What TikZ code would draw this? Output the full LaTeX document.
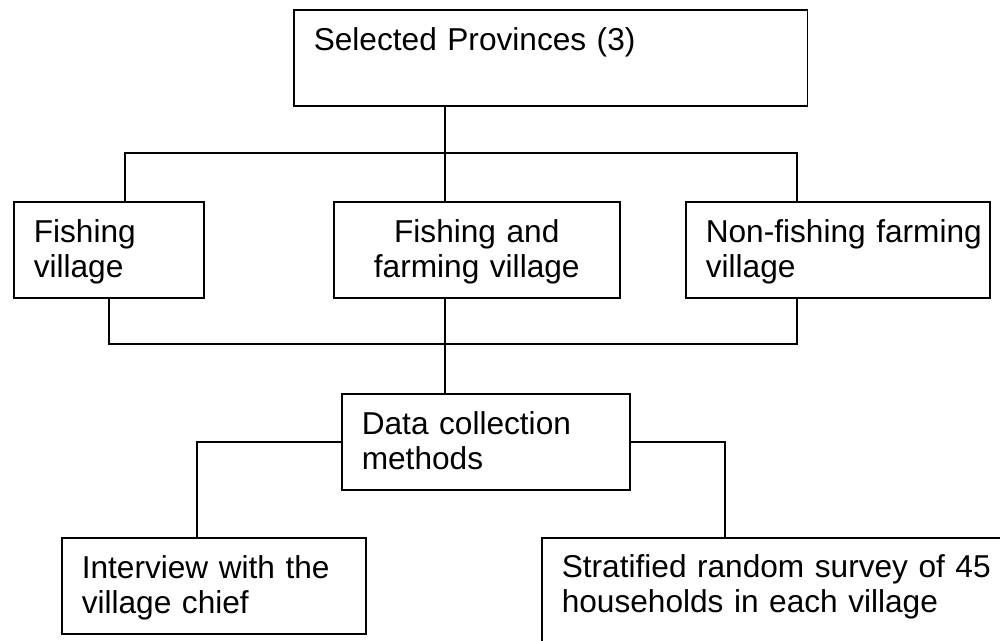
\documentclass[tikz,border=0pt]{standalone}
\usepackage{fontspec}
\setmainfont{Liberation Sans}
\usetikzlibrary{positioning}
\tikzset{
  box/.style  = {rectangle, draw=black, line width=0.9pt, anchor=north west,
                 minimum height=1.92cm, inner xsep=0.4cm, inner ysep=0pt,
                 text depth=0.74cm, align=left,
                 font=\fontsize{18}{19.8}\selectfont},
  link/.style = {draw=black, line width=0.9pt},
}

\begin{document}
\begin{tikzpicture}[x=0.02cm, y=-0.02cm]
  \useasboundingbox (0,0) rectangle (1000,641);
  \clip (0,0) rectangle (1000,641);
  \fill[white] (0,0) rectangle (1000,641);

  \node[box, minimum width=10.28cm, text width=9.48cm] (prov) at (293,9)
       {Selected Provinces (3)};

  \node[box, minimum width=3.8cm, text width=3.0cm] (fish) at (13,201)
       {Fishing\\ village};
  \node[box, minimum width=5.72cm, text width=4.92cm, align=center] (mixed) at (333,201)
       {Fishing and\\ farming village};
  \node[box, minimum width=6.08cm, text width=5.28cm] (nonfish) at (685,201)
       {\mbox{Non-fishing farming}\\ village};

  \node[box, minimum width=5.76cm, text width=4.96cm] (data) at (341,393)
       {Data collection\\ methods};

  \node[box, minimum width=6.08cm, text width=5.28cm] (chief) at (61,537)
       {Interview with the\\ village chief};
  \node[box, minimum width=10cm, minimum height=2.48cm, text width=9.2cm,
        text depth=1.34cm] (survey) at (541,537)
       {Stratified random survey of 45\\ households in each village};

  % junction points of the connectors
  \coordinate (trunk)     at (445,0);
  \coordinate (topbus)    at (125,153);
  \coordinate (topend)    at (797,153);
  \coordinate (lowend)    at (797,344);
  \coordinate (leftdrop)  at (197,0);
  \coordinate (rightdrop) at (725,0);

  \draw[link] (prov.south -| trunk) -- (mixed.north -| trunk);
  \draw[link] (fish.north -| topbus) |- (topend) -- (nonfish.north -| topend);
  \draw[link] (fish.south) |- (lowend) -- (nonfish.south -| lowend);
  \draw[link] (mixed.south -| trunk) -- (data.north -| trunk);
  \draw[link] (data.west) -| (chief.north -| leftdrop);
  \draw[link] (data.east) -| (survey.north -| rightdrop);
\end{tikzpicture}
\end{document}
